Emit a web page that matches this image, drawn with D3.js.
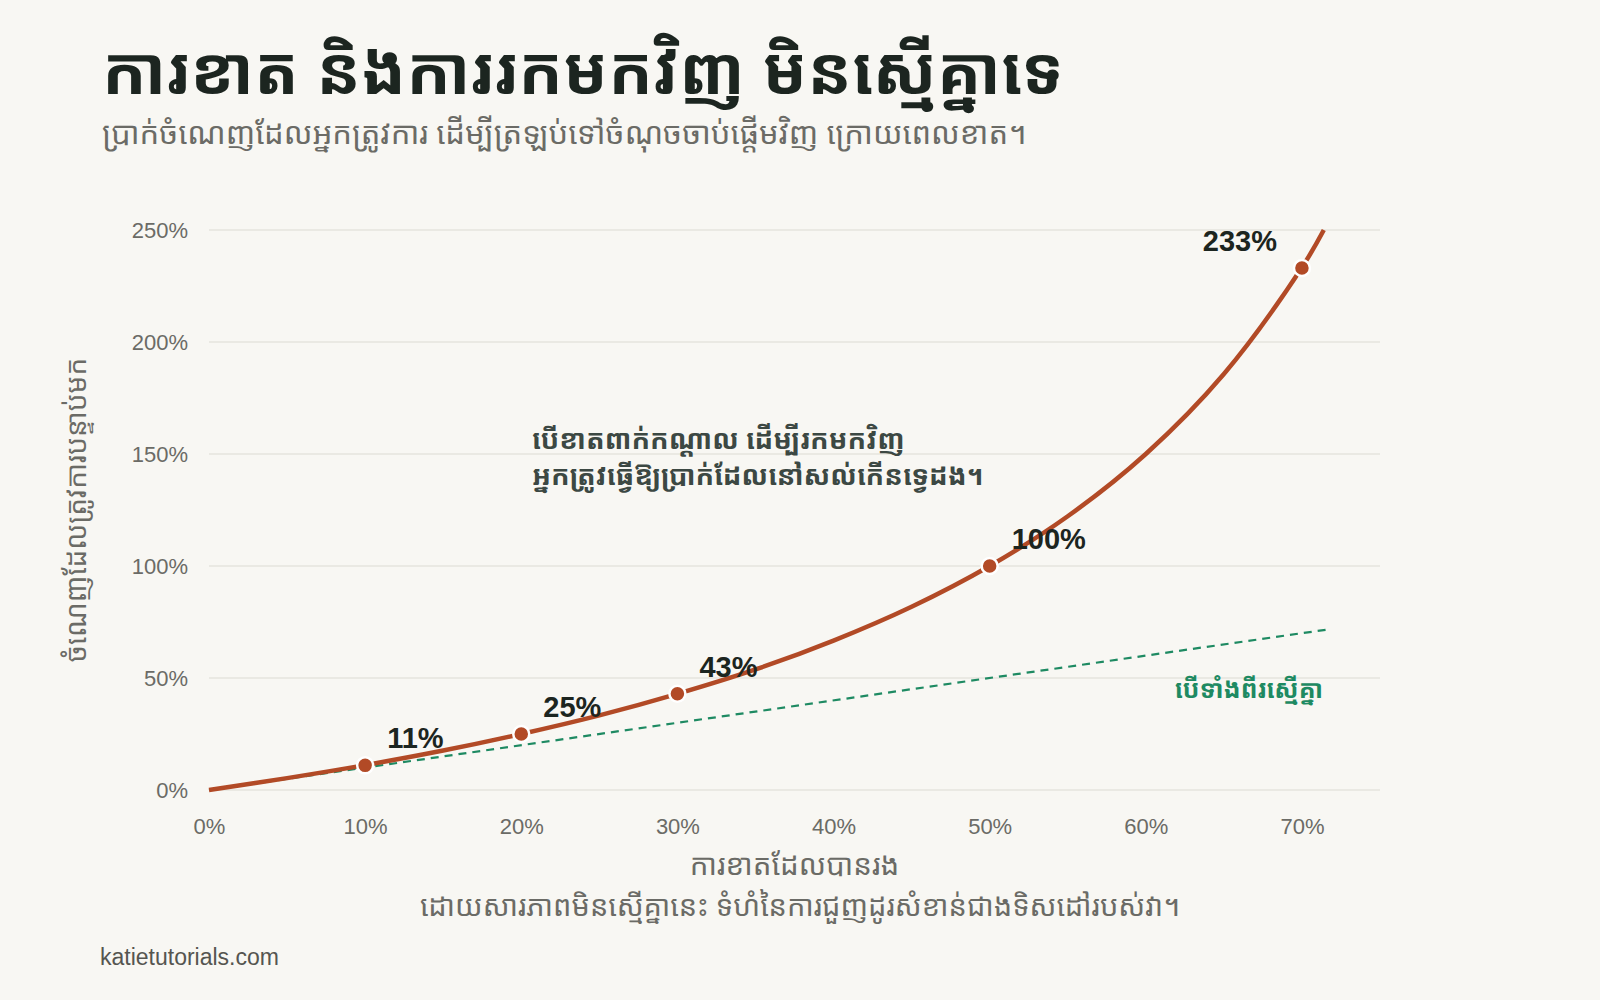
<!DOCTYPE html>
<html lang="km">
<head>
    <meta charset="UTF-8">
    <title>ការខាត និងការរកមកវិញ</title>
    <script src="https://d3js.org/d3.v7.min.js"></script>
    <style>
        body {
            margin: 0;
            background-color: #f8f7f3;
        }
        .khmer {
            font-family: "Noto Sans Khmer", "Khmer OS", "Noto Sans", sans-serif;
        }
        .tick-label {
            font-family: "Liberation Sans", Arial, sans-serif;
            font-size: 22px;
            fill: #6b6b66;
        }
        .pt-label {
            font-family: "Liberation Sans", Arial, sans-serif;
            font-size: 29px;
            font-weight: bold;
            fill: #1c2520;
        }
    </style>
</head>
<body>
    <div id="chart"></div>

    <script>
        // loss taken vs gain needed to get back to start
        const lossPath = [0, 0.05, 0.10, 0.15, 0.20, 0.25, 0.30, 0.35, 0.40, 0.45, 0.50, 0.55, 0.60, 0.65, 0.70, 0.714];
        const gainPath = [0, 0.053, 0.111, 0.176, 0.25, 0.333, 0.429, 0.538, 0.667, 0.818, 1.0, 1.222, 1.5, 1.857, 2.333, 2.5];

        // marked points
        const lossMarks = [0.10, 0.20, 0.30, 0.50, 0.70];
        const gainMarks = [0.11, 0.25, 0.43, 1.00, 2.33];
        const markLabels = ['11%', '25%', '43%', '100%', '233%'];

        // equal line (gain == loss)
        const equalLine = [0, 0.717];

        const xTicks = [0, 0.1, 0.2, 0.3, 0.4, 0.5, 0.6, 0.7];
        const yTicks = [0, 0.5, 1.0, 1.5, 2.0, 2.5];

        const width = 1600;
        const height = 1000;
        const margin = {top: 230, right: 220, bottom: 210, left: 209};
        const innerW = width - margin.left - margin.right;
        const innerH = height - margin.top - margin.bottom;

        const svg = d3.select('#chart')
            .append('svg')
            .attr('width', width)
            .attr('height', height);

        svg.append('rect')
            .attr('width', width)
            .attr('height', height)
            .attr('fill', '#f8f7f3');

        // title + subtitle
        svg.append('text')
            .attr('class', 'khmer')
            .attr('x', 102)
            .attr('y', 94)
            .attr('font-size', 66)
            .attr('font-weight', 'bold')
            .attr('fill', '#1c2520')
            .text('ការខាត និងការរកមកវិញ មិនស្មើគ្នាទេ');

        svg.append('text')
            .attr('class', 'khmer')
            .attr('x', 102)
            .attr('y', 144)
            .attr('font-size', 31)
            .attr('fill', '#6b6b66')
            .text('ប្រាក់ចំណេញដែលអ្នកត្រូវការ ដើម្បីត្រឡប់ទៅចំណុចចាប់ផ្តើមវិញ ក្រោយពេលខាត។');

        const g = svg.append('g')
            .attr('transform', `translate(${margin.left},${margin.top})`);

        const x = d3.scaleLinear()
            .domain([0, 0.75])
            .range([0, innerW]);

        const y = d3.scaleLinear()
            .domain([0, 2.5])
            .range([innerH, 0]);

        // grid
        g.append('g')
            .selectAll('line')
            .data(yTicks)
            .enter().append('line')
            .attr('x1', 0)
            .attr('x2', innerW)
            .attr('y1', d => y(d))
            .attr('y2', d => y(d))
            .attr('stroke', '#e6e4de')
            .attr('stroke-width', 1.5);

        // axes (no domain line, no tick marks)
        const yAxis = g.append('g')
            .call(d3.axisLeft(y).tickValues(yTicks).tickSize(0).tickPadding(21).tickFormat(d3.format('.0%')));
        yAxis.select('.domain').remove();
        yAxis.selectAll('text').attr('class', 'tick-label').attr('font-size', null).attr('font-family', null);

        const xAxis = g.append('g')
            .attr('transform', `translate(0,${innerH})`)
            .call(d3.axisBottom(x).tickValues(xTicks).tickSize(0).tickPadding(28).tickFormat(d3.format('.0%')));
        xAxis.select('.domain').remove();
        xAxis.selectAll('text').attr('class', 'tick-label').attr('font-size', null).attr('font-family', null);

        // equal line
        g.append('path')
            .datum(equalLine)
            .attr('fill', 'none')
            .attr('stroke', '#1e8a62')
            .attr('stroke-width', 2.2)
            .attr('stroke-dasharray', '8,6')
            .attr('d', d3.line().x(d => x(d)).y(d => y(d)));

        g.append('text')
            .attr('class', 'khmer')
            .attr('x', x(0.7135))
            .attr('y', y(0.41))
            .attr('text-anchor', 'end')
            .attr('font-size', 25)
            .attr('font-weight', 'bold')
            .attr('fill', '#1e8a62')
            .text('បើទាំងពីរស្មើគ្នា');

        // recovery curve
        const pathData = lossPath.map((l, i) => [l, gainPath[i]]);
        g.append('path')
            .datum(pathData)
            .attr('fill', 'none')
            .attr('stroke', '#b24a26')
            .attr('stroke-width', 4.5)
            .attr('d', d3.line().x(d => x(d[0])).y(d => y(d[1])).curve(d3.curveCatmullRom));

        const marks = lossMarks.map((l, i) => ({loss: l, gain: gainMarks[i], label: markLabels[i]}));

        g.selectAll('.mark')
            .data(marks)
            .enter().append('circle')
            .attr('class', 'mark')
            .attr('cx', d => x(d.loss))
            .attr('cy', d => y(d.gain))
            .attr('r', 8)
            .attr('fill', '#b24a26')
            .attr('stroke', '#ffffff')
            .attr('stroke-width', 2.5);

        g.selectAll('.pt-label')
            .data(marks)
            .enter().append('text')
            .attr('class', 'pt-label')
            .attr('x', (d, i) => i === marks.length - 1 ? x(d.loss) - 25 : x(d.loss) + 22)
            .attr('y', d => y(d.gain) - 17)
            .attr('text-anchor', (d, i) => i === marks.length - 1 ? 'end' : 'start')
            .text(d => d.label);

        // annotation, two lines
        const noteLines = ['បើខាតពាក់កណ្តាល ដើម្បីរកមកវិញ', 'អ្នកត្រូវធ្វើឱ្យប្រាក់ដែលនៅសល់កើនទ្វេដង។'];
        g.selectAll('.note')
            .data(noteLines)
            .enter().append('text')
            .attr('class', 'khmer note')
            .attr('x', 532 - margin.left)
            .attr('y', (d, i) => 449 - margin.top + i * 36)
            .attr('font-size', 27.5)
            .attr('font-weight', 'bold')
            .attr('fill', '#3c4843')
            .text(d => d);

        // axis titles
        g.append('text')
            .attr('class', 'khmer')
            .attr('transform', 'rotate(-90)')
            .attr('x', -innerH / 2)
            .attr('y', 86 - margin.left)
            .attr('text-anchor', 'middle')
            .attr('font-size', 28)
            .attr('fill', '#6b6b66')
            .text('ចំណេញដែលត្រូវការបន្ទាប់មក');

        g.append('text')
            .attr('class', 'khmer')
            .attr('x', innerW / 2)
            .attr('y', 875 - margin.top)
            .attr('text-anchor', 'middle')
            .attr('font-size', 29.5)
            .attr('fill', '#6b6b66')
            .text('ការខាតដែលបានរង');

        svg.append('text')
            .attr('class', 'khmer')
            .attr('x', 800)
            .attr('y', 916)
            .attr('text-anchor', 'middle')
            .attr('font-size', 29)
            .attr('fill', '#6b6b66')
            .text('ដោយសារភាពមិនស្មើគ្នានេះ ទំហំនៃការជួញដូរសំខាន់ជាងទិសដៅរបស់វា។');

        svg.append('text')
            .attr('x', 100)
            .attr('y', 965)
            .attr('font-family', '"Liberation Sans", Arial, sans-serif')
            .attr('font-size', 23)
            .attr('fill', '#555550')
            .text('katietutorials.com');
    </script>
</body>
</html>
